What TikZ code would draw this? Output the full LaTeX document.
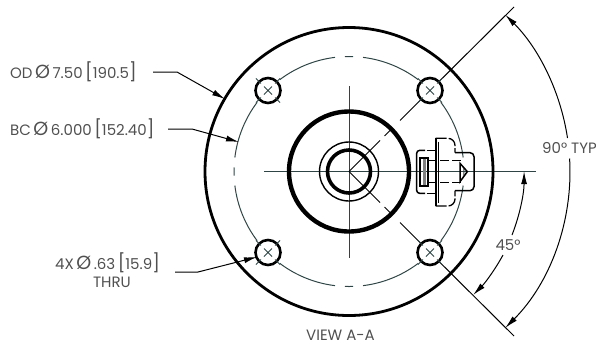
\documentclass[tikz,border=0pt]{standalone}
\usepackage{fontspec}
\setmainfont{Poppins}
\usetikzlibrary{arrows.meta}
\definecolor{txt}{HTML}{505050}
\definecolor{cl}{HTML}{2F4545}
\tikzset{
  lab/.style={text=txt,font=\fontsize{15}{17}\selectfont,inner sep=0pt,align=center},
  dim/.style={black,line width=1pt},
  tip/.style={-{Latex[length=13pt,width=6pt]}},
  thinc/.style={cl,line width=1pt},
  conn/.style={black,line width=1.3pt},
  hole/.style={black,line width=2.6pt},
}
\newcommand{\dia}{{\fontsize{19}{17}\selectfont Ø}}
\newcommand{\brk}[1]{{\fontsize{18}{17}\selectfont #1}}
\newcommand{\holemark}[2]{%
  \begin{scope}[shift={(#1,#2)}]
    \draw[hole] (0,0) circle (12.5);
    \draw[thinc] (-4,-4)--(4,4) (-4,4)--(4,-4);
    \foreach \a in {45,135,225,315}{\draw[thinc] (\a:10)--(\a:17);}
  \end{scope}}
\begin{document}
\begin{tikzpicture}[x=1pt,y=-1pt]
\useasboundingbox (0,0) rectangle (596,349);
\coordinate (c) at (349,171.5);
% center lines
\draw[cl,line width=1.1pt] (264,171.5)--(536,171.5);
\draw[cl,line width=1pt] (349,86)--(349,258);
% circles
\draw[black,line width=2.8pt] (c) circle (144);
\draw[black,line width=4.4pt] (c) circle (60);
\draw[black,line width=1.4pt] (c) circle (29.5);
\draw[black,line width=3.6pt] (c) circle (21.5);
% bolt circle
\foreach \s/\e in {7/37,53/83,97/127,143/173,187/217,233/263,277/307,323/353,-2/2,88/92,178/182,268/272}{
  \draw[thinc] ([shift={(\s:115)}]c) arc[start angle=\s,end angle=\e,radius=115];
}
% diagonals
\draw[black,line width=1pt] (c)--(380,140.5) (384.5,136)--(391,129.5) (400,120.5)--(422,98.5) (438,82.5)--(514,7);
\draw[black,line width=1pt] (c)--(380,202.5) (384.5,207)--(391,213.5) (400,222.5)--(422,244.5) (438,260.5)--(514,336);
\holemark{268}{90.5}
\holemark{430}{90.5}
\holemark{268}{252.5}
\holemark{430}{252.5}
% connector (zoom coordinates / 3)
\begin{scope}[shift={(400,130)},x=0.3333pt,y=-0.3333pt]
  \draw[conn,line width=1.7pt] (107,25)--(107,228);
  \draw[conn] (115,35)--(115,218);
  \draw[conn,rounded corners=7pt,dash pattern=on 11pt off 2pt] (107,25)--(165,25)--(165,68);
  \draw[conn,rounded corners=7pt,dash pattern=on 11pt off 2pt] (107,228)--(165,228)--(165,182);
  \draw[conn,line width=1.5pt,rounded corners=4pt] (165,68)--(222,68)--(222,182)--(165,182);
  \draw[conn,line width=1.5pt,rounded corners=3pt] (75,61)--(50,61)--(50,190)--(75,190);
  \draw[conn] (80,61)--(105,61) (80,190)--(105,190);
  \draw[conn,line width=1.7pt] (85,85)--(60,85)--(60,168)--(85,168)--cycle;
  \draw[gray,line width=3pt] (74,88)--(74,165);
  \draw[conn,dash pattern=on 9pt off 3pt] (85,92)--(190,92) (85,158)--(190,158);
  \draw[conn,line width=1.5pt] (180,100)--(202,125)--(180,155)--cycle;
\end{scope}
% labels and leaders
\node[lab,anchor=west] (od) at (10,72) {OD\,\dia\,7.50\,\brk{[}190.5\brk{]}};
\node[lab,anchor=west] (bc) at (10,129) {BC\,\dia\,6.000\,\brk{[}152.40\brk{]}};
\node[lab,anchor=center] (hl) at (107.5,263) {4X\,\dia\,.63\,\brk{[}15.9\brk{]}};
\node[lab,anchor=center] (th) at (112,282) {THRU};
\node[lab,anchor=center] (a90) at (569.5,148) {90° TYP};
\node[lab,anchor=center] (a45) at (508,245) {45°};
\node[lab,anchor=center] (view) at (340.5,335) {VIEW A-A};
\coordinate (odt) at (225,99);
\coordinate (bct) at (239,142);
\coordinate (hlt) at (257,257);
\draw[dim,tip] (153,72)--(177,72)--(odt);
\draw[dim,tip] (168,129)--(192,129)--(bct);
\draw[dim,tip] (175,272)--(198,272)--(hlt);
% angle arcs
\draw[dim,tip] (567.5,138) arc[start angle=-8.6,end angle=-45,radius=221];
\draw[dim,tip] (569.6,158.5) arc[start angle=-3.4,end angle=45,radius=221];
\draw[dim,tip] (512,235) arc[start angle=21.4,end angle=0,radius=175];
\draw[dim,tip] (503,255) arc[start angle=28.6,end angle=45,radius=175];
\end{tikzpicture}
\end{document}
